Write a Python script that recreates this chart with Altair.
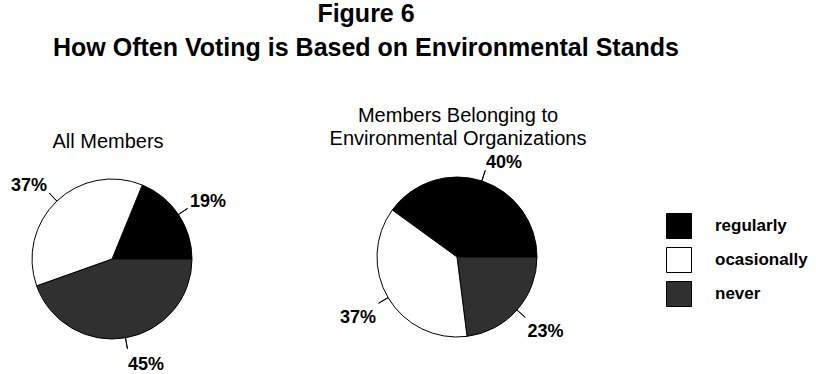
import math
import altair as alt
import pandas as pd

# ---- data ----
categories = ["regularly", "ocasionally", "never"]
all_members = [19, 37, 45]
env_members = [40, 37, 23]
pie_order = ["regularly", "never", "ocasionally"]   # clockwise drawing order
fills = ["#000000", "#ffffff", "#303030"]

title_lines = ["Figure 6", "How Often Voting is Based on Environmental Stands"]
left_title = ["All Members"]
right_title = ["Members Belonging to", "Environmental Organizations"]

FONT = "Liberation Sans"
R = 80


def pie_frame(values):
    lookup = dict(zip(categories, values))
    total = sum(values)
    # first slice ends at 3 o'clock
    a0 = math.pi / 2 - 2 * math.pi * lookup[pie_order[0]] / total
    rows, acc = [], 0
    for c in pie_order:
        v = lookup[c]
        mid = acc + v / 2
        ang = a0 + 2 * math.pi * mid / total
        rows.append(dict(cat=c, value=v, start=acc, end=acc + v, mid=mid,
                         mid2=mid + total * 0.0004, label=f"{v}%",
                         side="right" if math.sin(ang) >= 0 else "left",
                         vert="upper" if math.cos(ang) >= 0 else "lower"))
        acc += v
    return pd.DataFrame(rows), total, a0


fill_enc = alt.Fill(
    "cat:N",
    scale=alt.Scale(domain=categories, range=fills),
    legend=alt.Legend(
        title=None, orient="none", legendX=666, legendY=213,
        symbolType="square", symbolSize=625, symbolStrokeColor="black",
        symbolStrokeWidth=1, symbolOpacity=1, labelFont=FONT, labelFontSize=17,
        labelFontWeight="bold", labelColor="black", rowPadding=4, labelOffset=23,
        padding=0,
    ),
)


def pie(values, cx, cy):
    df, total, a0 = pie_frame(values)
    tscale = alt.Scale(domain=[0, total], range=[a0, a0 + 2 * math.pi])
    base = alt.Chart(df).encode(x=alt.value(cx), y=alt.value(cy))
    arcs = base.mark_arc(outerRadius=R, stroke="black", strokeWidth=1).encode(
        theta=alt.Theta("start:Q", scale=tscale, stack=None),
        theta2="end:Q",
        fill=fill_enc,
    )
    leaders = base.mark_arc(outerRadius=R + 11, innerRadius=R, fill="black",
                            stroke="black", strokeWidth=0.9).encode(
        theta=alt.Theta("mid:Q", scale=tscale, stack=None),
        theta2="mid2:Q",
    )
    layers = [arcs, leaders]
    for side in ["left", "right"]:
        for vert in ["upper", "lower"]:
            layers.append(
                base.transform_filter(
                    (alt.datum.side == side) & (alt.datum.vert == vert)
                ).mark_text(
                    radius=R + 14,
                    align="left" if side == "right" else "right",
                    baseline="alphabetic" if vert == "upper" else "top",
                    dy=0 if vert == "upper" else 4,
                    font=FONT, fontSize=18, fontWeight="bold", color="black",
                ).encode(
                    theta=alt.Theta("mid:Q", scale=tscale, stack=None),
                    text="label:N",
                )
            )
    return alt.layer(*layers)


one = pd.DataFrame({"a": [0]})
main_title = alt.Chart(one).mark_text(
    text=title_lines, font=FONT, fontSize=25, fontWeight="bold",
    lineHeight=34, align="center", baseline="alphabetic", color="black",
).encode(x=alt.value(366), y=alt.value(22))

left_sub = alt.Chart(one).mark_text(
    text=left_title, font=FONT, fontSize=20, align="center",
    baseline="alphabetic", color="black",
).encode(x=alt.value(108), y=alt.value(148))

right_sub = alt.Chart(one).mark_text(
    text=right_title, font=FONT, fontSize=20, lineHeight=23, align="center",
    baseline="alphabetic", color="black",
).encode(x=alt.value(458), y=alt.value(122))

chart = alt.layer(
    pie(all_members, 112, 259),
    pie(env_members, 457, 257),
    main_title, left_sub, right_sub,
).resolve_scale(theta="independent").properties(
    width=816, height=374, autosize=alt.AutoSizeParams(type="none"), padding=0,
    background="white",
).configure_view(stroke=None)

chart.save("out.html", embed_options={"renderer": "svg", "actions": False})
